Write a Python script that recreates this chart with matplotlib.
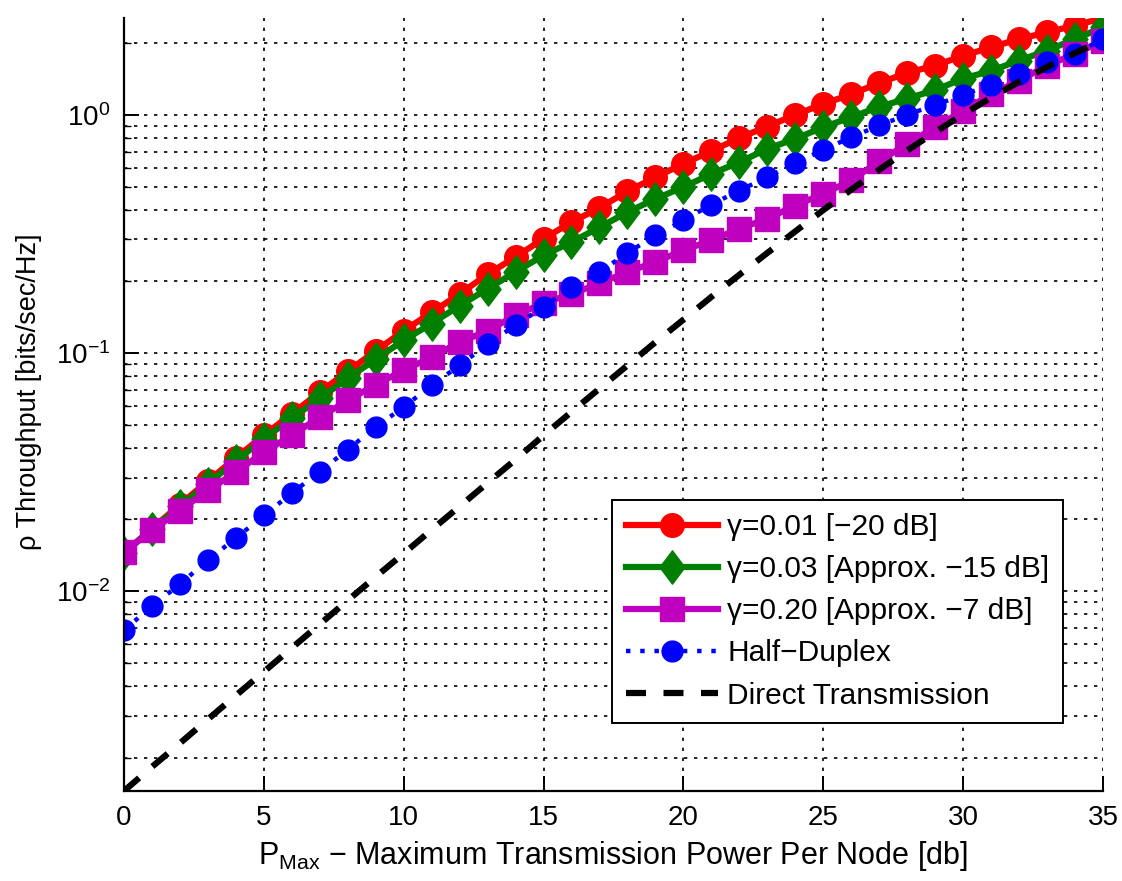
import matplotlib
matplotlib.use("Agg")
import matplotlib.pyplot as plt
from matplotlib.path import Path
from matplotlib.ticker import LogLocator, NullFormatter
import numpy as np

plt.rcParams['font.family'] = ['Liberation Sans', 'DejaVu Sans']
plt.rcParams['mathtext.default'] = 'regular'

# ---- data ----
p_max = list(range(0, 36))

gamma_001 = [0.0145, 0.0183, 0.0231, 0.0290, 0.0363, 0.0451, 0.0556, 0.0684, 0.0838, 0.102,
             0.124, 0.148, 0.177, 0.214, 0.253, 0.302, 0.354, 0.407, 0.477, 0.547,
             0.623, 0.704, 0.800, 0.893, 1.00, 1.11, 1.22, 1.36, 1.50, 1.61,
             1.77, 1.92, 2.08, 2.22, 2.37, 2.55]

gamma_003 = [0.0145, 0.0182, 0.0227, 0.0283, 0.0352, 0.0437, 0.0531, 0.0646, 0.0782, 0.0942,
             0.113, 0.133, 0.158, 0.186, 0.219, 0.257, 0.292, 0.337, 0.390, 0.444,
             0.497, 0.565, 0.632, 0.720, 0.793, 0.887, 0.977, 1.08, 1.17, 1.27,
             1.42, 1.53, 1.69, 1.86, 2.08, 2.33]

gamma_020 = [0.0146, 0.0180, 0.0218, 0.0265, 0.0316, 0.0384, 0.0451, 0.0538, 0.0632, 0.0737,
             0.0845, 0.0962, 0.111, 0.124, 0.144, 0.162, 0.177, 0.196, 0.219, 0.241,
             0.270, 0.297, 0.333, 0.366, 0.416, 0.466, 0.530, 0.638, 0.755, 0.887,
             1.04, 1.22, 1.39, 1.61, 1.80, 2.05]

half_duplex = [0.00686, 0.00865, 0.0107, 0.0135, 0.0167, 0.0208, 0.0258, 0.0318, 0.0393, 0.0489,
               0.0593, 0.0731, 0.0887, 0.109, 0.131, 0.156, 0.189, 0.219, 0.263, 0.312,
               0.360, 0.420, 0.481, 0.547, 0.627, 0.713, 0.805, 0.902, 1.00, 1.10,
               1.21, 1.34, 1.49, 1.66, 1.80, 2.08]

direct = [0.00145, 0.00183, 0.00230, 0.00290, 0.00365, 0.00459, 0.00578, 0.00727, 0.00915, 0.0115,
          0.0144, 0.0181, 0.0227, 0.0285, 0.0357, 0.0451, 0.0566, 0.0709, 0.0887, 0.111,
          0.138, 0.172, 0.213, 0.263, 0.324, 0.398, 0.485, 0.588, 0.708, 0.846,
          1.004, 1.18, 1.375, 1.587, 1.817, 2.06]

labels = ['γ=0.01 [−20 dB]', 'γ=0.03 [Approx. −15 dB]', 'γ=0.20 [Approx. −7 dB]',
          'Half−Duplex', 'Direct Transmission']
x_ticks = [0, 5, 10, 15, 20, 25, 30, 35]

diamond = Path([(0, 1), (0.75, 0), (0, -1), (-0.75, 0), (0, 1)],
               [Path.MOVETO, Path.LINETO, Path.LINETO, Path.LINETO, Path.CLOSEPOLY])

fig = plt.figure(figsize=(11.22, 8.81), dpi=100)
ax = fig.add_axes([0.1105, 0.1022, 0.8725, 0.8774])

ax.plot(p_max, gamma_001, color='#ff0000', lw=4.5, marker='o', ms=17,
        mfc='#ff0000', mec='#ff0000', label=labels[0])
ax.plot(p_max, gamma_003, color='#007f00', lw=4.5, marker=diamond, ms=24,
        mfc='#007f00', mec='#007f00', label=labels[1])
ax.plot(p_max, gamma_020, color='#bf00bf', lw=4.5, marker='s', ms=17,
        mfc='#bf00bf', mec='#bf00bf', label=labels[2])
ax.plot(p_max, half_duplex, color='#0000ff', lw=3.2, ls=(0, (1, 2.2)), marker='o', ms=15,
        mfc='#0000ff', mec='#0000ff', label=labels[3])
ax.plot(p_max, direct, color='black', lw=4.5, ls=(0, (3.2, 2.8)), label=labels[4])

ax.set_yscale('log')
ax.set_xlim(0, 35)
ax.set_ylim(min(direct), max(gamma_001))
ax.set_xticks(x_ticks)
ax.yaxis.set_major_locator(LogLocator(base=10, numticks=10))
ax.yaxis.set_minor_locator(LogLocator(base=10, subs=np.arange(2, 10), numticks=20))
ax.yaxis.set_minor_formatter(NullFormatter())

ax.grid(True, which='major', color='black', ls=(0, (2, 4)), lw=1.2)
ax.grid(True, which='minor', axis='y', color='black', ls=(0, (2, 4)), lw=1.2)

for s in ['top', 'right']:
    ax.spines[s].set_visible(False)
for s in ['left', 'bottom']:
    ax.spines[s].set_linewidth(1.6)

ax.tick_params(which='major', direction='in', length=11, width=1.4, labelsize=20,
               top=False, right=False, pad=10)
ax.tick_params(which='minor', direction='in', length=5, width=1.0, top=False, right=False)

ax.set_xlabel('$P_{Max}$ − Maximum Transmission Power Per Node [db]', fontsize=22, labelpad=6)
ax.set_ylabel('ρ Throughput [bits/sec/Hz]', fontsize=19.5)
ax.yaxis.set_label_coords(-0.084, 0.517)

leg = ax.legend(loc='lower right', bbox_to_anchor=(0.959, 0.088), borderaxespad=0,
                fontsize=21.5, frameon=True, fancybox=False, edgecolor='black', framealpha=1,
                handlelength=3.1, handletextpad=0.3, borderpad=0.45, labelspacing=0.47,
                markerscale=1.0)
leg.get_frame().set_linewidth(1.4)

fig.savefig('out.png', dpi=100)
